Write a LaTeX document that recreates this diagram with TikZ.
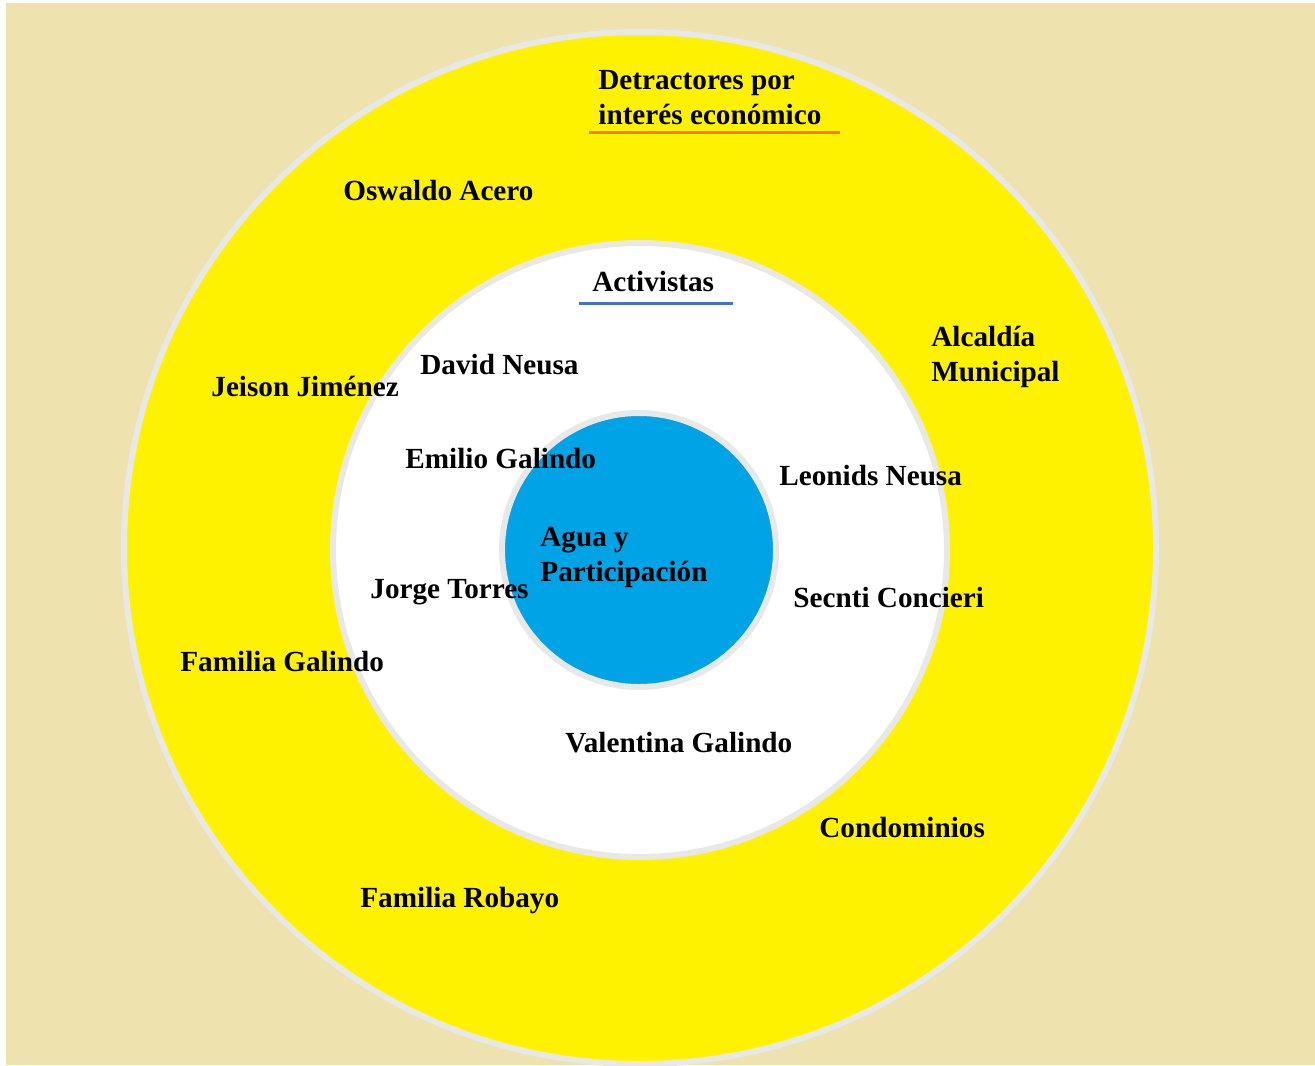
\documentclass[tikz,border=0pt]{standalone}
\usepackage{fontspec}
\setmainfont{Liberation Serif}
\definecolor{beige}{HTML}{EEE2AF}
\definecolor{ring}{HTML}{FFF200}
\definecolor{core}{HTML}{00A3E6}
\definecolor{rim}{HTML}{E8E8E8}
\definecolor{ulorange}{HTML}{F07C2A}
\definecolor{ulblue}{HTML}{4472C4}
\begin{document}
\begin{tikzpicture}[x=0.5pt,y=-0.5pt,
  lbl/.style={anchor=west,inner sep=0pt,font=\fontsize{14.6pt}{17.5pt}\selectfont\bfseries,text=black,align=left},
  disc/.style={draw=rim,line width=3pt}]
\useasboundingbox (0,0) rectangle (1315,1065);
\fill[white] (0,0) rectangle (1315,1065);
\fill[beige] (6,3) rectangle (1315,1065);
\draw[disc,fill=ring] (640,548) circle[radius=258pt];
\draw[disc,fill=white] (640,550) circle[radius=153.5pt];
\draw[disc,fill=core] (639,550) circle[radius=68.5pt];
% labels
\node[lbl] (det) at (598,98) {Detractores por\\interés económico};
\coordinate (ua) at (589,132); \coordinate (ub) at (840,132);
\draw[ulorange,line width=1.5pt] (ua) -- (ub);
\node[lbl] (osw) at (343,191) {Oswaldo Acero};
\node[lbl] (act) at (592,282) {Activistas};
\coordinate (va) at (579,303); \coordinate (vb) at (733,303);
\draw[ulblue,line width=1.5pt] (va) -- (vb);
\node[lbl] (alc) at (931,357) {Alcaldía\\Municipal};
\node[lbl] (jei) at (211,386) {Jeison Jiménez};
\node[lbl] (dav) at (420,365) {David Neusa};
\node[lbl] (emi) at (405,459) {Emilio Galindo};
\node[lbl] (leo) at (779,476) {Leonids Neusa};
\node[lbl] (agu) at (540,557) {Agua y\\Participación};
\node[lbl] (jor) at (370,592) {Jorge Torres};
\node[lbl] (sec) at (793,598) {Secnti Concieri};
\node[lbl] (fga) at (180,662) {Familia Galindo};
\node[lbl] (val) at (565,743) {Valentina Galindo};
\node[lbl] (con) at (819,827) {Condominios};
\node[lbl] (fro) at (360,901) {Familia Robayo};
\end{tikzpicture}
\end{document}
